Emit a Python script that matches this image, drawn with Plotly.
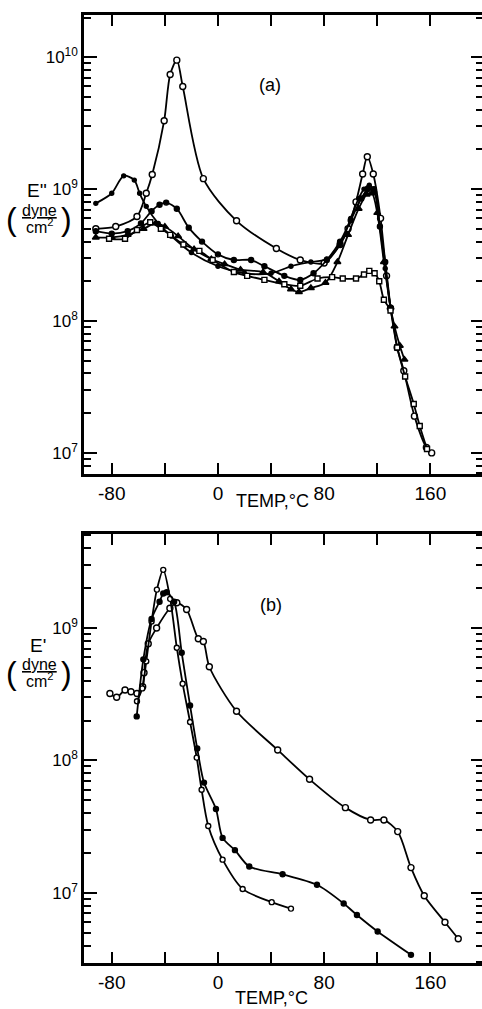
import plotly.graph_objects as go

# ---------------- data : panel (a)  E'' vs temperature ----------------
a1_temp = [-92, -77, -61, -54, -49.5, -40.5, -36, -31, -26.5, -11, 14, 44, 62, 80, 92, 98, 104, 109, 112.5, 117, 122.5, 127, 130, 135, 140, 148, 157, 161]
a1_E = [5.0e8, 5.2e8, 6.2e8, 9.3e8, 1.29e9, 3.3e9, 7.4e9, 9.5e9, 6.0e9, 1.2e9, 5.75e8, 3.55e8, 2.9e8, 2.75e8, 3.8e8, 5.0e8, 8.0e8, 1.3e9, 1.76e9, 1.3e9, 6.0e8, 2.2e8, 1.25e8, 6.3e7, 4.2e7, 1.9e7, 1.1e7, 1.0e7]

a2_temp = [-92, -80, -71, -63, -59, -54, -45, -35, -20, 0, 20, 40, 55, 70, 82, 92, 100, 106, 110, 114, 118, 122, 126, 130]
a2_E = [7.8e8, 9.3e8, 1.26e9, 1.17e9, 9.3e8, 7.4e8, 5.5e8, 4.4e8, 3.3e8, 2.6e8, 2.3e8, 2.3e8, 2.6e8, 2.8e8, 2.95e8, 3.8e8, 6.0e8, 8.5e8, 1.0e9, 1.07e9, 9.5e8, 5.2e8, 2.5e8, 1.26e8]

a3_temp = [-92, -80, -68, -58, -50, -44, -39, -31, -22, -12, 0, 12, 25, 35, 50, 62, 72, 82, 92, 100, 108, 113, 117.5, 122, 126, 130]
a3_E = [4.8e8, 4.6e8, 4.8e8, 5.5e8, 6.8e8, 7.6e8, 7.9e8, 7.1e8, 5.1e8, 4.0e8, 3.2e8, 2.9e8, 2.9e8, 2.6e8, 2.2e8, 2.05e8, 2.3e8, 2.9e8, 4.0e8, 5.8e8, 8.5e8, 1.0e9, 1.0e9, 5.2e8, 2.8e8, 1.26e8]

a4_temp = [-92, -80, -68, -56, -47, -40, -30, -18, -5, 5, 17, 34, 46, 55, 61, 70, 81, 90, 98, 106, 112, 116, 120, 125, 130, 133, 137, 140.5]
a4_E = [4.3e8, 4.3e8, 4.5e8, 5.0e8, 5.5e8, 5.2e8, 4.4e8, 3.5e8, 2.95e8, 2.7e8, 2.45e8, 2.35e8, 2.0e8, 1.74e8, 1.66e8, 1.78e8, 1.95e8, 2.8e8, 4.5e8, 7.1e8, 9.1e8, 9.3e8, 6.6e8, 2.8e8, 1.26e8, 9.1e7, 6.5e7, 5.1e7]

a5_temp = [-82, -70, -61, -51, -43, -36, -26, -14, -4, 12, 22, 35, 50, 62, 75, 86, 94, 104, 110, 114, 118, 121.5, 125, 130, 135, 141, 147.5, 152, 157.5]
a5_E = [4.2e8, 4.2e8, 4.9e8, 5.6e8, 5.0e8, 4.5e8, 3.8e8, 3.4e8, 2.9e8, 2.35e8, 2.2e8, 2.05e8, 1.9e8, 1.85e8, 2.1e8, 2.15e8, 2.1e8, 2.1e8, 2.25e8, 2.4e8, 2.3e8, 2.0e8, 1.45e8, 1.2e8, 6.3e7, 3.8e7, 2.35e7, 1.6e7, 1.07e7]

# ---------------- data : panel (b)  E' vs temperature ----------------
b1_temp = [-81.4, -76.3, -70, -65.5, -61, -56.7, -55.7, -52.5, -46.2, -36.2, -31, -23.6, -14.8, -11, -6.5, 14, 45, 69, 96, 115, 125, 135.4, 145.4, 155.4, 171, 181]
b1_E = [3.2e8, 3.0e8, 3.4e8, 3.3e8, 3.2e8, 3.6e8, 4.6e8, 7.6e8, 1.0e9, 1.41e9, 1.55e9, 1.38e9, 8.3e8, 7.9e8, 5.1e8, 2.35e8, 1.2e8, 7.2e7, 4.4e7, 3.55e7, 3.55e7, 2.9e7, 1.55e7, 9.5e6, 6.0e6, 4.5e6]

b2_temp = [-61, -57, -54, -50, -46, -41.2, -36, -31, -26.6, -21, -16, -12.3, -7.3, 3.5, 18.6, 40.5, 55]
b2_E = [2.8e8, 3.5e8, 5.6e8, 1.12e9, 1.95e9, 2.75e9, 1.66e9, 7.1e8, 3.8e8, 1.95e8, 1.05e8, 6.0e7, 3.2e7, 1.78e7, 1.07e7, 8.5e6, 7.6e6]

b3_temp = [-61.2, -56.2, -50, -44, -41.2, -38.6, -33, -27.3, -21, -15.6, -10.5, -1.5, 3.5, 12.8, 23.6, 48.7, 74.6, 94.7, 104.7, 120.3, 145.4]
b3_E = [2.15e8, 5.8e8, 1.17e9, 1.58e9, 1.82e9, 1.86e9, 1.58e9, 6.5e8, 2.6e8, 1.23e8, 6.8e7, 4.3e7, 2.6e7, 2.1e7, 1.58e7, 1.38e7, 1.15e7, 8.3e6, 6.8e6, 5.1e6, 3.4e6]

# ---------------- tick labels ----------------
x_tickvals = [-80, -40, 0, 40, 80, 120, 160]
x_ticktext = ["-80", "", "0", "", "80", "", "160"]
ya_tickvals = [1e7, 1e8, 1e9, 1e10]
ya_ticktext = ["10<sup>7</sup>", "10<sup>8</sup>", "10<sup>9</sup>", "10<sup>10</sup>"]
yb_tickvals = [1e7, 1e8, 1e9]
yb_ticktext = ["10<sup>7</sup>", "10<sup>8</sup>", "10<sup>9</sup>"]

FONT = "Liberation Sans, Arial, Helvetica, sans-serif"
W, H = 482, 1009
L, R, T, B = 84, 0, 15, 46
PW, PH = W - L - R, H - T - B
YA_RANGE = [6.84, 10.32]
YB_RANGE = [6.47, 9.71]


def px(xp):
    return (xp - L) / PW


def py(yp):
    return (H - B - yp) / PH


def marker(symbol, filled, size=6):
    return dict(symbol=symbol, size=size,
                color="black" if filled else "white",
                line=dict(color="black", width=1.4))


fig = go.Figure()

series_a = [
    (a1_temp, a1_E, marker("circle", False)),
    (a2_temp, a2_E, marker("circle", True, 4)),
    (a3_temp, a3_E, marker("circle", True, 5)),
    (a4_temp, a4_E, marker("triangle-up", True, 6)),
    (a5_temp, a5_E, marker("square", False, 5)),
]
for tx, ey, mk in series_a:
    fig.add_trace(go.Scatter(x=tx, y=ey, mode="lines+markers", xaxis="x", yaxis="y",
                             line=dict(color="black", width=1.8, shape="spline", smoothing=0.8),
                             marker=mk, showlegend=False))

series_b = [
    (b1_temp, b1_E, marker("circle", False)),
    (b2_temp, b2_E, marker("circle", False, 5)),
    (b3_temp, b3_E, marker("circle", True, 5)),
]
for tx, ey, mk in series_b:
    fig.add_trace(go.Scatter(x=tx, y=ey, mode="lines+markers", xaxis="x2", yaxis="y2",
                             line=dict(color="black", width=1.8, shape="spline", smoothing=0.8),
                             marker=mk, showlegend=False))

# invisible copies that carry the right-hand tick rows (overlay axes y3..y6)
for xa, ya, tx, ey in (("x", "y3", a1_temp, a1_E), ("x", "y5", a1_temp, a1_E),
                       ("x2", "y4", b1_temp, b1_E), ("x2", "y6", b1_temp, b1_E)):
    fig.add_trace(go.Scatter(x=tx, y=ey, xaxis=xa, yaxis=ya, mode="markers",
                             marker=dict(size=1, color="rgba(0,0,0,0)"),
                             hoverinfo="skip", showlegend=False))

# domains
ya_dom = [py(474), 1.0]
yb_dom = [0.0, py(534)]

minor_a = [m * 10 ** e for e in range(6, 11) for m in range(2, 10)]
minor_b = [m * 10 ** e for e in range(6, 10) for m in range(2, 10)]

xcommon = dict(range=[-100.9, 198.9], tickmode="array", tickvals=x_tickvals, ticktext=x_ticktext,
               ticks="inside", ticklen=11, tickwidth=2, tickcolor="black",
               showline=True, linewidth=2.5, linecolor="black", mirror="ticks",
               showgrid=False, zeroline=False,
               tickfont=dict(family=FONT, size=19, color="black"))


def ycommon(rng, tv, tt, minor_vals):
    return dict(type="log", range=rng, tickmode="array", tickvals=tv, ticktext=tt,
                ticks="inside", ticklen=13, tickwidth=2, tickcolor="black",
                showline=True, linewidth=2.5, linecolor="black", mirror=False,
                showgrid=False, zeroline=False,
                minor=dict(tickmode="array", tickvals=minor_vals, ticks="inside",
                           ticklen=7, tickwidth=2, tickcolor="black", showgrid=False),
                tickfont=dict(family=FONT, size=17, color="black"))


def yright(rng, tv, over, pos_px, length):
    # tick row on the right edge: ticks point outward from pos_px to the frame edge
    return dict(type="log", range=rng, tickmode="array", tickvals=tv,
                overlaying=over, anchor="free", position=px(pos_px), side="right",
                ticks="outside", ticklen=length, tickwidth=2, tickcolor="black",
                showline=False, showticklabels=False, showgrid=False, zeroline=False)


fig.update_layout(
    width=W, height=H,
    margin=dict(l=L, r=R, t=T, b=B, pad=0),
    paper_bgcolor="white", plot_bgcolor="white",
    font=dict(family=FONT, color="black"),
    xaxis=dict(domain=[0, 1], anchor="y", **xcommon),
    yaxis=dict(domain=ya_dom, anchor="x", **ycommon(YA_RANGE, ya_tickvals, ya_ticktext, minor_a)),
    xaxis2=dict(domain=[0, 1], anchor="y2", **xcommon),
    yaxis2=dict(domain=yb_dom, anchor="x2", **ycommon(YB_RANGE, yb_tickvals, yb_ticktext, minor_b)),
    yaxis3=yright(YA_RANGE, ya_tickvals, "y", 470, 12),
    yaxis5=yright(YA_RANGE, minor_a, "y", 475, 7),
    yaxis4=yright(YB_RANGE, yb_tickvals, "y2", 470, 12),
    yaxis6=yright(YB_RANGE, minor_b, "y2", 475, 7),
)


def ann(text, xp, yp, size, **kw):
    fig.add_annotation(text=text, x=px(xp), y=py(yp), xref="paper", yref="paper",
                       showarrow=False, xanchor="center", yanchor="middle",
                       font=dict(family=FONT, size=size, color="black"), **kw)


# panel labels
ann("(a)", 270, 85, 18)
ann("(b)", 271, 605, 18)
# x titles
ann("TEMP,°C", 272, 501, 18)
ann("TEMP,°C", 271, 998, 18)
# y titles (a)
ann("E''", 37, 190, 19)
ann("<u>dyne</u>", 39, 210, 16)
ann("cm<sup>2</sup>", 40, 226, 16)
ann("(", 11, 219, 32)
ann(")", 66, 219, 32)
# y titles (b)
ann("E'", 38, 646, 19)
ann("<u>dyne</u>", 39, 664, 16)
ann("cm<sup>2</sup>", 40, 680, 16)
ann("(", 11, 673, 32)
ann(")", 66, 673, 32)

fig.write_html("out.html")
